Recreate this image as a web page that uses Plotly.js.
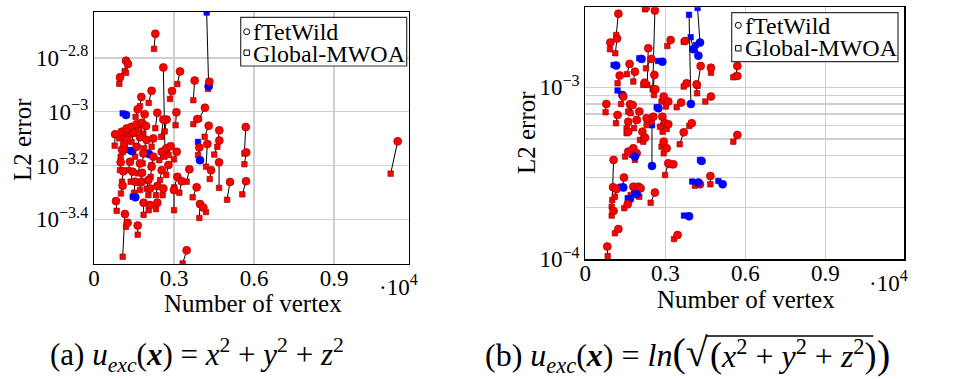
<!DOCTYPE html>
<html><head><meta charset="utf-8">
<script src="https://cdn.plot.ly/plotly-3.0.1.min.js"></script>
<style>html,body{margin:0;padding:0;background:#fff;}#chart{width:978px;height:379px;}</style>
</head><body><div id="chart"></div>
<script>
// ---- Panel (a): number of vertices (x10^4) and log10(L2 error) ----
const aTetX   = [0.430,0.230,0.120,0.1275,0.0975,0.260,0.3225,0.3775,0.4325,0.2925,0.216,0.1775,0.416,0.3875,0.164,0.120,0.190,0.2375,0.309,0.2725,0.260,0.430,0.470,0.569,0.470,0.571,0.469,0.439,0.510,0.570,0.079,0.105,0.141,0.206,0.100,0.110,0.1075,0.145,0.180,0.154,0.179,0.204,0.210,0.2375,0.260,0.3125,0.329,0.3575,0.385,0.3975,0.410,0.0825,0.116,0.126,0.164,0.3475,0.155,0.186,0.210,0.2375,0.300,1.139,0.104,0.1225,0.141,0.160,0.179,0.195,0.1475,0.1725,0.1975,0.2225,0.1225,0.113,0.160,0.185,0.2225,0.254,0.2725,0.2875,0.310,0.254,0.279,0.216,0.1725,0.135,0.3975,0.395,0.425];
const aTetLog = [-2.905,-2.710,-2.810,-2.822,-2.872,-2.835,-2.850,-2.884,-2.888,-2.923,-2.922,-2.945,-2.985,-3.027,-2.991,-3.012,-3.009,-3.004,-3.002,-3.029,-3.029,-3.052,-3.069,-3.057,-3.107,-3.151,-3.188,-3.217,-3.261,-3.258,-3.084,-3.141,-3.146,-3.157,-3.188,-3.221,-3.275,-3.223,-3.227,-3.260,-3.260,-3.254,-3.285,-3.276,-3.285,-3.242,-3.258,-3.214,-3.281,-3.343,-3.356,-3.332,-3.380,-3.413,-3.423,-3.515,-3.318,-3.338,-3.347,-3.338,-3.291,-3.110,-3.074,-3.062,-3.056,-3.046,-3.041,-3.053,-3.078,-3.095,-3.105,-3.099,-3.105,-3.120,-3.130,-3.155,-3.167,-3.149,-3.136,-3.128,-3.149,-3.217,-3.198,-3.204,-3.192,-3.186,-3.180,-3.133,-3.120];
const aMwoaX  = [0.4225,0.225,0.115,0.120,0.095,0.266,0.3125,0.3725,0.4275,0.285,0.205,0.1725,0.394,0.3725,0.156,0.1075,0.185,0.230,0.306,0.265,0.2525,0.415,0.4625,0.564,0.451,0.564,0.469,0.434,0.499,0.556,0.0775,0.100,0.1325,0.1975,0.0975,0.105,0.101,0.1375,0.1725,0.150,0.1725,0.1975,0.204,0.2325,0.2575,0.301,0.320,0.3475,0.370,0.395,0.420,0.085,0.1075,0.120,0.164,0.3325,0.145,0.186,0.205,0.2325,0.300,1.1125,0.095,0.1125,0.1325,0.150,0.170,0.185,0.141,0.1625,0.1875,0.216,0.1175,0.108,0.154,0.1825,0.216,0.245,0.264,0.280,0.300,0.2475,0.271,0.2125,0.165,0.129,0.390,0.390,0.420];
const aMwoaLog= [-2.631,-2.766,-2.849,-2.855,-2.896,-3.141,-2.897,-2.957,-2.915,-2.952,-2.967,-2.979,-3.026,-3.046,-3.019,-3.006,-3.046,-3.061,-3.050,-3.073,-3.093,-3.093,-3.130,-3.155,-3.159,-3.195,-3.283,-3.250,-3.327,-3.307,-3.126,-3.167,-3.143,-3.152,-3.217,-3.260,-3.304,-3.260,-3.266,-3.301,-3.291,-3.286,-3.310,-3.310,-3.310,-3.281,-3.301,-3.260,-3.318,-3.395,-3.373,-3.368,-3.539,-3.428,-3.457,-3.564,-3.316,-3.383,-3.366,-3.362,-3.366,-3.230,-3.099,-3.093,-3.086,-3.081,-3.068,-3.081,-3.112,-3.130,-3.136,-3.130,-3.140,-3.150,-3.167,-3.192,-3.198,-3.180,-3.167,-3.161,-3.177,-3.254,-3.235,-3.242,-3.229,-3.217,-3.112,-3.161,-3.204];

// ---- Panel (b) ----
const bTetX   = [0.124,0.094,0.119,0.2275,0.261,0.430,0.396,0.405,0.424,0.374,0.320,0.570,0.570,0.471,0.4325,0.236,0.211,0.289,0.2475,0.116,0.166,0.186,0.129,0.259,0.2225,0.139,0.1425,0.079,0.1675,0.274,0.359,0.380,0.4175,0.471,0.399,0.369,0.570,0.250,0.311,0.330,0.436,0.261,0.469,0.515,0.389,0.346,0.0825,0.430,0.424,0.161,0.214,0.224,0.305,0.294,0.161,0.180,0.1925,0.186,0.106,0.145,0.104,0.1175,0.1425,0.180,0.199,0.2075,0.1925,0.1675,0.159,0.106,0.124,0.121,0.255,0.289,0.299,0.311,0.230,0.1775,0.1925,0.161,0.2025,0.2625,0.294,0.311];
const bTetLog = [-2.572,-2.740,-2.717,-2.535,-2.554,-2.740,-3.097,-2.779,-2.816,-2.731,-2.725,-2.876,-2.934,-2.886,-2.876,-2.773,-2.835,-2.851,-2.835,-2.874,-2.864,-2.909,-2.932,-2.928,-2.973,-3.045,-3.054,-3.097,-3.099,-3.122,-3.089,-2.977,-2.983,-3.054,-3.209,-3.262,-3.277,-3.457,-3.442,-3.448,-3.428,-3.612,-3.516,-3.564,-3.750,-3.859,-3.926,-3.564,-3.554,-3.258,-3.258,-3.293,-3.355,-3.316,-3.374,-3.355,-3.384,-3.403,-3.422,-3.525,-3.581,-3.591,-3.583,-3.578,-3.578,-3.587,-3.622,-3.649,-3.680,-3.719,-3.824,-3.161,-3.171,-3.171,-3.209,-3.215,-3.180,-3.103,-3.190,-3.200,-3.141,-3.012,-3.054,-3.083];
const bMwoaX  = [0.116,0.0925,0.1125,0.224,0.2525,0.421,0.389,0.395,0.415,0.369,0.3075,0.564,0.555,0.471,0.421,0.2325,0.2025,0.2725,0.2275,0.106,0.156,0.180,0.121,0.255,0.2175,0.121,0.134,0.076,0.161,0.2675,0.3425,0.369,0.419,0.450,0.390,0.354,0.555,0.250,0.299,0.3175,0.430,0.245,0.469,0.499,0.370,0.3325,0.084,0.411,0.401,0.155,0.205,0.2175,0.294,0.286,0.149,0.174,0.186,0.180,0.101,0.140,0.099,0.111,0.1325,0.170,0.186,0.2025,0.185,0.159,0.146,0.099,0.111,0.115,0.249,0.280,0.290,0.305,0.230,0.170,0.1825,0.155,0.195,0.2575,0.286,0.3025];
const bMwoaLog= [-2.696,-2.779,-2.802,-2.547,-3.012,-2.539,-2.579,-2.709,-2.754,-2.736,-2.760,-2.934,-2.942,-2.915,-2.992,-2.986,-2.831,-2.847,-2.890,-2.870,-2.924,-2.967,-2.977,-3.006,-2.986,-3.019,-3.097,-3.145,-3.141,-3.116,-3.116,-2.996,-3.035,-3.083,-3.225,-3.331,-3.316,-3.221,-3.510,-3.452,-3.422,-3.671,-3.564,-3.545,-3.746,-3.882,-3.981,-3.572,-3.548,-3.267,-3.306,-3.316,-3.384,-3.345,-3.403,-3.393,-3.422,-3.393,-3.655,-3.578,-3.694,-3.636,-3.578,-3.626,-3.607,-3.636,-3.616,-3.645,-3.703,-3.746,-3.849,-3.209,-3.200,-3.229,-3.258,-3.242,-3.219,-3.151,-3.238,-3.238,-3.190,-3.045,-3.083,-3.112];

// ---- axis ticks / labels ----
const xTickVals = [0, 0.3, 0.6, 0.9];
const xTickText = ['0', '0.3', '0.6', '0.9'];
const aYTickExp = [-3.4, -3.2, -3, -2.8];
const bYTickExp = [-4, -3];
const bMinorGrid = [2e-4, 3e-4, 4e-4, 5e-4, 6e-4, 7e-4, 8e-4, 9e-4];
const seriesNames = ['fTetWild', 'Global-MWOA'];
const big = (s, px) => '<span style="font-size:' + px + 'px">' + s + '</span>';
const captionA = '(a) <i>u</i><sub><i>exc</i></sub>(<b><i>x</i></b>) = <i>x</i><sup>2</sup> + <i>y</i><sup>2</sup> + <i>z</i><sup>2</sup>';
const captionB1 = '(b) <i>u</i><sub><i>exc</i></sub>(<b><i>x</i></b>) = <i>ln</i>' + big('(', 40) + big('√', 40);
const captionB2 = big('(', 36) + '<i>x</i><sup>2</sup> + <i>y</i><sup>2</sup> + <i>z</i><sup>2</sup>' + big(')', 36);
const captionB3 = big(')', 40);

const FONT = 'Liberation Serif, Times New Roman, serif';
const W = 978, H = 379;
const PX = p => p / W, PY = p => 1 - p / H;
const pow10 = a => a.map(v => Math.pow(10, v));
const supLabel = e => '10<sup>\u2212' + String(Math.abs(e)) + '</sup>';

function panel(tx, tlog, mx, mlog, xa, ya) {
  const ty = pow10(tlog), my = pow10(mlog);
  const col = ty.map((v, i) => (my[i] > v ? '#0000ff' : '#ff0000'));
  const edge = col.map(c => (c === '#ff0000' ? '#8a0000' : '#0000ff'));
  const lx = [], ly = [];
  tx.forEach((v, i) => { lx.push(v, mx[i], null); ly.push(ty[i], my[i], null); });
  return [
    {type:'scatter', mode:'lines', x:lx, y:ly, xaxis:xa, yaxis:ya, line:{color:'#000', width:1}, hoverinfo:'skip', showlegend:false},
    {type:'scatter', mode:'markers', name:seriesNames[1], x:mx, y:my, xaxis:xa, yaxis:ya, marker:{symbol:'square', size:5.5, color:col, line:{color:edge, width:0.6}}, showlegend:false},
    {type:'scatter', mode:'markers', name:seriesNames[0], x:tx, y:ty, xaxis:xa, yaxis:ya, marker:{symbol:'circle', size:8, color:col, line:{color:edge, width:0.6}}, showlegend:false}
  ];
}

const data = [].concat(
  panel(aTetX, aTetLog, aMwoaX, aMwoaLog, 'x', 'y'),
  panel(bTetX, bTetLog, bMwoaX, bMwoaLog, 'x2', 'y2')
);

const gridCol = '#cfcfcf';
const TICKF = {family:FONT, size:23, color:'#000'};
const xBase = {tickmode:'array', tickvals:xTickVals, ticktext:xTickText, showgrid:true, gridcolor:gridCol, gridwidth:1.2,
  zeroline:false, showline:true, linecolor:'#000', linewidth:1.2, mirror:true, ticks:'', tickfont:TICKF, ticklabelstandoff:-7};
const yBase = {type:'log', tickmode:'array', showgrid:true, gridcolor:gridCol, gridwidth:1.2, zeroline:false,
  showline:true, linecolor:'#000', linewidth:1.2, mirror:true, ticks:'', tickfont:TICKF};

const CAP = 31, CAPB = 32;
const LEG = 24;
const legText = (x, y, t) => ({xref:'paper', yref:'paper', x:PX(x), y:PY(y), xanchor:'left', yanchor:'middle', text:t,
  showarrow:false, font:{size:LEG}, height:20, valign:'middle'});
const layout = {
  width:W, height:H, margin:{l:0, r:0, t:0, b:0}, paper_bgcolor:'#fff', plot_bgcolor:'#fff',
  font:{family:FONT, size:22, color:'#000'}, showlegend:false,
  xaxis: Object.assign({}, xBase, {domain:[PX(94), PX(409)], range:[0, 1.18125], anchor:'y'}),
  yaxis: Object.assign({}, yBase, {domain:[PY(264), PY(12)], range:[-3.566, -2.629], anchor:'x',
    tickvals: pow10(aYTickExp), ticktext: aYTickExp.map(supLabel)}),
  xaxis2: Object.assign({}, xBase, {domain:[PX(585.3), PX(904.3)], range:[0, 1.196], anchor:'y2'}),
  yaxis2: Object.assign({}, yBase, {domain:[PY(259.3), PY(7.3)], range:[-4, -2.535], anchor:'x2',
    tickvals: pow10(bYTickExp), ticktext: bYTickExp.map(supLabel),
    minor:{tickmode:'array', tickvals:bMinorGrid, showgrid:true, gridcolor:gridCol, gridwidth:1.2, ticks:''}}),
  shapes: [
    {type:'rect', xref:'paper', yref:'paper', x0:PX(240.7), x1:PX(406.7), y0:PY(66), y1:PY(17.3), line:{color:'#333', width:1.2}, fillcolor:'#fff'},
    {type:'circle', xref:'paper', yref:'paper', x0:PX(243.7), x1:PX(249.7), y0:PY(34.7), y1:PY(28.7), line:{color:'#000', width:1}},
    {type:'rect', xref:'paper', yref:'paper', x0:PX(244), x1:PX(249.4), y0:PY(55.4), y1:PY(50), line:{color:'#000', width:1}},
    {type:'rect', xref:'paper', yref:'paper', x0:PX(731.7), x1:PX(898), y0:PY(61.7), y1:PY(12.7), line:{color:'#333', width:1.2}, fillcolor:'#fff'},
    {type:'circle', xref:'paper', yref:'paper', x0:PX(735.3), x1:PX(741.3), y0:PY(28.3), y1:PY(22.3), line:{color:'#000', width:1}},
    {type:'rect', xref:'paper', yref:'paper', x0:PX(735.6), x1:PX(741), y0:PY(51), y1:PY(45.6), line:{color:'#000', width:1}}
  ],
  annotations: [
    legText(251, 31.7, seriesNames[0]),
    legText(251, 53.5, seriesNames[1]),
    legText(742.5, 25.6, seriesNames[0]),
    legText(742.5, 48.5, seriesNames[1]),
    {xref:'paper', yref:'paper', x:PX(22), y:PY(140), textangle:-90, xanchor:'center', yanchor:'middle', text:'L2 error', showarrow:false, font:{size:25}},
    {xref:'paper', yref:'paper', x:PX(527), y:PY(133), textangle:-90, xanchor:'center', yanchor:'middle', text:'L2 error', showarrow:false, font:{size:25}},
    {xref:'paper', yref:'paper', x:PX(253), y:PY(303), xanchor:'center', yanchor:'middle', text:'Number of vertex', showarrow:false, font:{size:25}},
    {xref:'paper', yref:'paper', x:PX(746), y:PY(299), xanchor:'center', yanchor:'middle', text:'Number of vertex', showarrow:false, font:{size:25}},
    {xref:'paper', yref:'paper', x:PX(377), y:PY(285), xanchor:'left', yanchor:'middle', text:'·10<sup>4</sup>', showarrow:false, font:{size:23}},
    {xref:'paper', yref:'paper', x:PX(867), y:PY(281), xanchor:'left', yanchor:'middle', text:'·10<sup>4</sup>', showarrow:false, font:{size:23}},
    {xref:'paper', yref:'paper', x:PX(197), y:PY(355), xanchor:'center', yanchor:'middle', text:captionA, showarrow:false, font:{size:CAP}},
    {xref:'paper', yref:'paper', x:PX(483), y:PY(354), xanchor:'left', yanchor:'middle', text:captionB1, showarrow:false, font:{size:CAPB}},
    {xref:'paper', yref:'paper', x:PX(700), y:PY(354), xanchor:'left', yanchor:'middle', text:captionB2, showarrow:false, font:{size:CAPB}},
    {xref:'paper', yref:'paper', x:PX(900), y:PY(354), xanchor:'left', yanchor:'middle', text:captionB3, showarrow:false, font:{size:CAPB}}
  ]
};

Plotly.newPlot('chart', data, layout, {staticPlot:true, displayModeBar:false}).then(gd => {
  // chain the three pieces of caption (b) and draw the square-root bar over the radicand
  const anns = gd.querySelectorAll('.annotation');
  const n = layout.annotations.length;
  const g = gd.getBoundingClientRect();
  const t1 = anns[n - 3].querySelector('text');
  const r1 = t1.getBoundingClientRect();
  const r2 = anns[n - 2].querySelector('text').getBoundingClientRect();
  const start = r1.right - g.left;
  const end = start + r2.width;
  let barY = r1.top - g.top + 6;
  const sqSpan = Array.from(t1.querySelectorAll('tspan')).find(s => s.textContent.indexOf('√') >= 0);
  if (sqSpan) { barY = sqSpan.getBoundingClientRect().top - g.top + 6; }
  const upd = {};
  upd['annotations[' + (n - 2) + '].x'] = PX(start);
  upd['annotations[' + (n - 1) + '].x'] = PX(end + 1);
  const shapes = layout.shapes.slice();
  shapes.push({type:'line', xref:'paper', yref:'paper', x0:PX(start - 2), x1:PX(end - 1), y0:PY(barY), y1:PY(barY), line:{color:'#000', width:1.4}});
  upd.shapes = shapes;
  return Plotly.relayout(gd, upd);
});
</script></body></html>
